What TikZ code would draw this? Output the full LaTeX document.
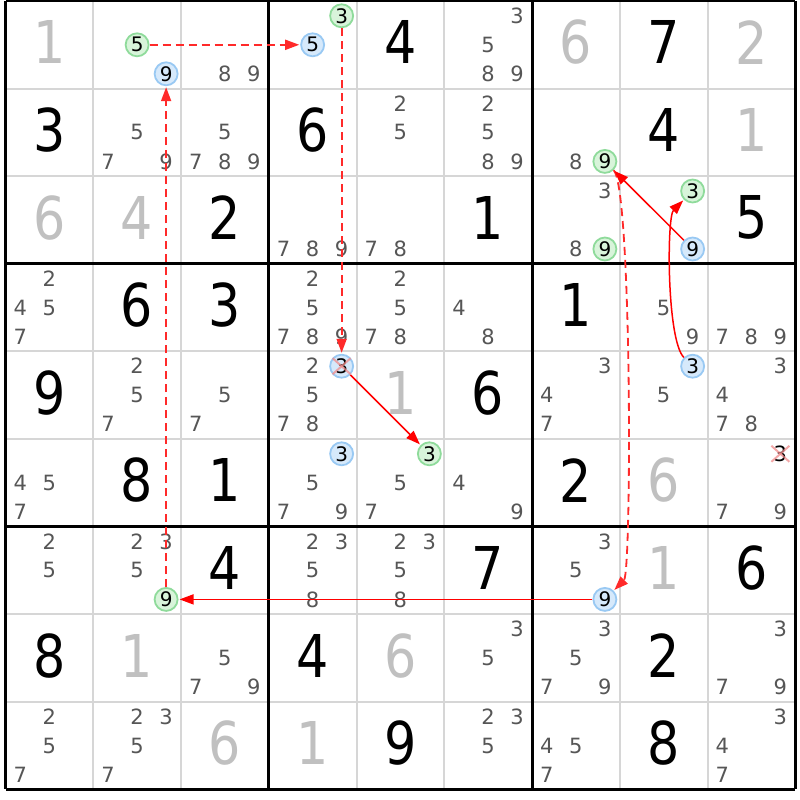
\documentclass[tikz,border=0pt]{standalone}
\usepackage{fontspec}
\setmainfont{DejaVu Sans}
\newfontfamily\sdkbigfont{DejaVu Sans}[FakeStretch=0.86]
\usetikzlibrary{arrows.meta}
\definecolor{minigray}{HTML}{565656}
\definecolor{givgray}{HTML}{C0C0C0}
\definecolor{gridgray}{HTML}{D6D6D6}
\definecolor{bstroke}{HTML}{99C9F3}
\definecolor{bfill}{HTML}{D6E9FB}
\definecolor{gstroke}{HTML}{8FDB9B}
\definecolor{gfill}{HTML}{D8F4DA}
\definecolor{linkred}{HTML}{FF0000}
\definecolor{dashred}{HTML}{FF2A2A}
\definecolor{xred}{HTML}{F08C8C}
\newcommand\sdkX[1]{5.5+87.75*#1+43.875}
\newcommand\sdkY[1]{-(1+87.6*#1+43.8)}
\newcommand\sdkBig[4]{\node[big,#4] (v#1#2) at ({\sdkX{#2}},{\sdkY{#1}+2.4}) {#3};}
\newcommand\sdkCands[3]{\foreach \d in {#3}{\node[mini] (m#1#2\d) at ({\sdkX{#2}+29*(mod(\d-1,3)-1)},{\sdkY{#1}-29*(floor((\d-1)/3)-1)}) {\d};}}
\newcommand\sdkHi[4]{\node[#4] (h#1#2#3) at ({\sdkX{#2}+29*(mod(#3-1,3)-1)},{\sdkY{#1}-29*(floor((#3-1)/3)-1)}) {#3};}
\tikzset{
  big/.style={inner sep=0pt, font=\sdkbigfont\fontsize{59}{59}\selectfont},
  bk/.style={text=black},
  bg/.style={text=givgray},
  mini/.style={inner sep=0pt, text=minigray, font=\fontsize{21}{21}\selectfont},
  hibase/.style={circle, inner sep=0pt, minimum size=23pt, line width=1.8pt, text=black, font=\fontsize{20}{20}\selectfont},
  hb/.style={hibase, draw=bstroke, fill=bfill},
  hg/.style={hibase, draw=gstroke, fill=gfill},
  thin/.style={draw=gridgray, line width=2pt},
  thick/.style={draw=black, line width=3pt},
  slink/.style={draw=linkred, line width=1.5pt, -{Triangle[length=14pt,width=10pt]}, shorten >=1pt},
  dlink/.style={draw=dashred, line width=1.8pt, dash pattern=on 8pt off 5pt, -{Triangle[length=14pt,width=10pt]}, shorten >=1pt},
  xmark/.style={draw=xred, line width=2pt, opacity=0.75}
}
\begin{document}
\begin{tikzpicture}[x=1pt,y=1pt]
\useasboundingbox (0,0) rectangle (800,-800);
\fill[white] (0,0) rectangle (800,-800);
% thin grid lines
\foreach \i in {1,2,4,5,7,8}{
  \draw[thin] ({5.5+87.75*\i},-1) -- ({5.5+87.75*\i},-789.4);
  \draw[thin] (5.5,{-(1+87.6*\i)}) -- (795.25,{-(1+87.6*\i)});
}
% thick grid lines
\foreach \i in {0,3,6,9}{
  \draw[thick] ({5.5+87.75*\i},-1) -- ({5.5+87.75*\i},-789.4);
  \draw[thick] (5.5,{-(1+87.6*\i)}) -- (795.25,{-(1+87.6*\i)});
}
% big digits
\sdkBig{0}{0}{1}{bg} \sdkBig{0}{4}{4}{bk} \sdkBig{0}{6}{6}{bg} \sdkBig{0}{7}{7}{bk} \sdkBig{0}{8}{2}{bg}
\sdkBig{1}{0}{3}{bk} \sdkBig{1}{3}{6}{bk} \sdkBig{1}{7}{4}{bk} \sdkBig{1}{8}{1}{bg}
\sdkBig{2}{0}{6}{bg} \sdkBig{2}{1}{4}{bg} \sdkBig{2}{2}{2}{bk} \sdkBig{2}{5}{1}{bk} \sdkBig{2}{8}{5}{bk}
\sdkBig{3}{1}{6}{bk} \sdkBig{3}{2}{3}{bk} \sdkBig{3}{6}{1}{bk}
\sdkBig{4}{0}{9}{bk} \sdkBig{4}{4}{1}{bg} \sdkBig{4}{5}{6}{bk}
\sdkBig{5}{1}{8}{bk} \sdkBig{5}{2}{1}{bk} \sdkBig{5}{6}{2}{bk} \sdkBig{5}{7}{6}{bg}
\sdkBig{6}{2}{4}{bk} \sdkBig{6}{5}{7}{bk} \sdkBig{6}{7}{1}{bg} \sdkBig{6}{8}{6}{bk}
\sdkBig{7}{0}{8}{bk} \sdkBig{7}{1}{1}{bg} \sdkBig{7}{3}{4}{bk} \sdkBig{7}{4}{6}{bg} \sdkBig{7}{7}{2}{bk}
\sdkBig{8}{2}{6}{bg} \sdkBig{8}{3}{1}{bg} \sdkBig{8}{4}{9}{bk} \sdkBig{8}{7}{8}{bk}
% candidates
\sdkCands{0}{2}{8,9} \sdkCands{0}{5}{3,5,8,9}
\sdkCands{1}{1}{5,7,9} \sdkCands{1}{2}{5,7,8,9} \sdkCands{1}{4}{2,5} \sdkCands{1}{5}{2,5,8,9} \sdkCands{1}{6}{8}
\sdkCands{2}{3}{7,8,9} \sdkCands{2}{4}{7,8} \sdkCands{2}{6}{3,8}
\sdkCands{3}{0}{2,4,5,7} \sdkCands{3}{3}{2,5,7,8,9} \sdkCands{3}{4}{2,5,7,8} \sdkCands{3}{5}{4,8} \sdkCands{3}{7}{5,9} \sdkCands{3}{8}{7,8,9}
\sdkCands{4}{1}{2,5,7} \sdkCands{4}{2}{5,7} \sdkCands{4}{3}{2,5,7,8} \sdkCands{4}{6}{3,4,7} \sdkCands{4}{7}{5} \sdkCands{4}{8}{3,4,7,8}
\sdkCands{5}{0}{4,5,7} \sdkCands{5}{3}{5,7,9} \sdkCands{5}{4}{5,7} \sdkCands{5}{5}{4,9} \sdkCands{5}{8}{7,9}
\sdkCands{6}{0}{2,5} \sdkCands{6}{1}{2,3,5} \sdkCands{6}{3}{2,3,5,8} \sdkCands{6}{4}{2,3,5,8} \sdkCands{6}{6}{3,5}
\sdkCands{7}{2}{5,7,9} \sdkCands{7}{5}{3,5} \sdkCands{7}{6}{3,5,7,9} \sdkCands{7}{8}{3,7,9}
\sdkCands{8}{0}{2,5,7} \sdkCands{8}{1}{2,3,5,7} \sdkCands{8}{5}{2,3,5} \sdkCands{8}{6}{4,5,7} \sdkCands{8}{8}{3,4,7}
% eliminated candidate shown in black
\node[mini, text=black] (m583) at ({\sdkX{8}+29},{\sdkY{5}+29}) {3};
% highlighted candidates
\sdkHi{0}{1}{5}{hg} \sdkHi{0}{1}{9}{hb}
\sdkHi{0}{3}{3}{hg} \sdkHi{0}{3}{5}{hb}
\sdkHi{1}{6}{9}{hg}
\sdkHi{2}{6}{9}{hg}
\sdkHi{2}{7}{3}{hg} \sdkHi{2}{7}{9}{hb}
\sdkHi{4}{3}{3}{hb}
\sdkHi{4}{7}{3}{hb}
\sdkHi{5}{3}{3}{hb}
\sdkHi{5}{4}{3}{hg}
\sdkHi{6}{1}{9}{hg}
\sdkHi{6}{6}{9}{hb}
% links
\draw[dlink] (h015) -- (h035);
\draw[dlink] (h033) -- (h433);
\draw[slink] (h433) -- (h543);
\draw[dlink] (h619) -- (h019);
\draw[slink] (h669) -- (h619);
\draw[dlink] (h169) .. controls +(27,-27) and +(27,27) .. (h669);
\draw[slink] (h279) -- (h169);
\draw[slink] (h473) .. controls +(-26,26) and +(-26,-26) .. (h273);
% eliminations
\draw[xmark] ([shift={(-9,8)}]h433.center) -- ([shift={(9,-8)}]h433.center);
\draw[xmark] ([shift={(-9,-8)}]h433.center) -- ([shift={(9,8)}]h433.center);
\draw[xmark] ([shift={(-9,8)}]m583.center) -- ([shift={(9,-8)}]m583.center);
\draw[xmark] ([shift={(-9,-8)}]m583.center) -- ([shift={(9,8)}]m583.center);
\end{tikzpicture}
\end{document}
